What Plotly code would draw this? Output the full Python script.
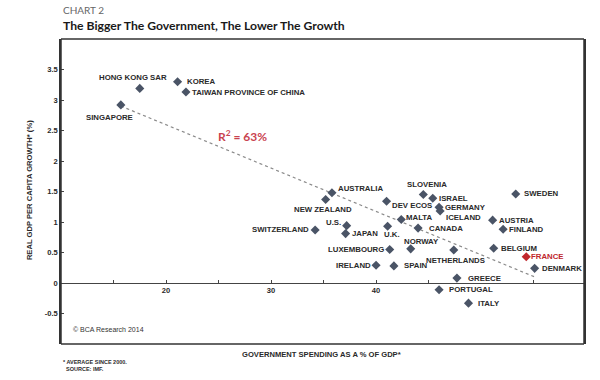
import plotly.graph_objects as go

# ---- data ----
countries = ["HONG KONG SAR", "KOREA", "TAIWAN PROVINCE OF CHINA", "SINGAPORE",
             "AUSTRALIA", "NEW ZEALAND", "SWITZERLAND", "U.S.", "JAPAN", "U.K.",
             "DEV ECOS", "SLOVENIA", "ISRAEL", "GERMANY", "ICELAND", "MALTA",
             "CANADA", "NORWAY", "LUXEMBOURG", "NETHERLANDS", "IRELAND", "SPAIN",
             "GREECE", "PORTUGAL", "ITALY", "SWEDEN", "AUSTRIA", "FINLAND",
             "BELGIUM", "FRANCE", "DENMARK"]
gov_spending = [17.5, 21.1, 21.9, 15.7,
                35.8, 35.2, 34.2, 37.2, 37.1, 41.1,
                41.0, 44.5, 45.4, 46.0, 46.1, 42.4,
                44.0, 43.3, 41.3, 47.4, 40.0, 41.7,
                47.7, 46.0, 48.8, 53.3, 51.1, 52.1,
                51.2, 54.3, 55.1]
gdp_growth = [3.19, 3.30, 3.13, 2.92,
              1.48, 1.37, 0.87, 0.94, 0.81, 0.93,
              1.34, 1.45, 1.39, 1.24, 1.18, 1.04,
              0.90, 0.56, 0.55, 0.54, 0.29, 0.28,
              0.08, -0.11, -0.33, 1.46, 1.03, 0.88,
              0.57, 0.43, 0.24]
highlight = "FRANCE"
trend_x = [15.7, 55.1]
trend_y = [2.90, 0.10]
r2_label = "R<sup>2</sup> = 63%"
x_tickvals = [20, 30, 40]
x_ticktext = ["20", "30", "40"]
x_minor_ticks = [15, 25, 35, 45, 55]
y_tickvals = [-0.5, 0, 0.5, 1, 1.5, 2, 2.5, 3, 3.5]
y_ticktext = ["-0.5", "0", "0.5", "1", "1.5", "2", "2.5", "3", "3.5"]

# ---- label placement (anchor, dx px, dy px) ----
label_pos = {
    "HONG KONG SAR": ("center", -7, 11), "KOREA": ("left", 8, 0),
    "TAIWAN PROVINCE OF CHINA": ("left", 5, 0), "SINGAPORE": ("center", -11, -13),
    "AUSTRALIA": ("left", 5, 4), "NEW ZEALAND": ("center", -3, -10),
    "SWITZERLAND": ("right", -5, 0), "U.S.": ("right", -5, 3),
    "JAPAN": ("left", 5, 0), "U.K.": ("center", 4, -8),
    "DEV ECOS": ("left", 4, -4), "SLOVENIA": ("center", 4, 10),
    "ISRAEL": ("left", 5, 0), "GERMANY": ("left", 5, 0),
    "ICELAND": ("left", 5, -6), "MALTA": ("left", 4, 2),
    "CANADA": ("left", 10, 0), "NORWAY": ("center", 11, 7),
    "LUXEMBOURG": ("right", -5, 0), "NETHERLANDS": ("center", 2, -10),
    "IRELAND": ("right", -4, 0), "SPAIN": ("left", 9, 0),
    "GREECE": ("left", 10, 0), "PORTUGAL": ("left", 9, 0),
    "ITALY": ("left", 9, 0), "SWEDEN": ("left", 7, 0),
    "AUSTRIA": ("left", 5, 0), "FINLAND": ("left", 5, 0),
    "BELGIUM": ("left", 6, 0), "FRANCE": ("left", 4, 0),
    "DENMARK": ("left", 6, 0),
}

DARK = "#4a5466"
RED = "#c0272d"
LBL_FONT = "Liberation Sans"

fig = go.Figure()
fig.add_trace(go.Scatter(
    x=trend_x, y=trend_y, mode="lines",
    line=dict(color="#8a8a8a", width=1.2, dash="dot"), hoverinfo="skip"))
fig.add_trace(go.Scatter(
    x=gov_spending, y=gdp_growth, mode="markers", text=countries,
    marker=dict(symbol="diamond", size=7,
                color=[RED if c == highlight else DARK for c in countries],
                line=dict(width=0))))

ann = []
for c, xv, yv in zip(countries, gov_spending, gdp_growth):
    anchor, dx, dy = label_pos[c]
    ann.append(dict(x=xv, y=yv, xref="x", yref="y", text=c, showarrow=False,
                    xanchor=anchor, yanchor="middle", xshift=dx, yshift=dy,
                    borderpad=0,
                    font=dict(family=LBL_FONT, size=7.8,
                              color=RED if c == highlight else "#2a2a2a",
                              weight="bold")))

ann.append(dict(x=27.3, y=2.41, xref="x", yref="y", text=r2_label, showarrow=False,
                font=dict(family="Lato", size=12, color="#c9434f", weight="bold")))
ann.append(dict(x=0.0, y=1.095, xref="paper", yref="paper", text="CHART 2",
                showarrow=False, xanchor="left", yanchor="middle",
                font=dict(family="Lato", size=10, color="#666666")))
ann.append(dict(x=0.0, y=1.045, xref="paper", yref="paper",
                text="<b>The Bigger The Government, The Lower The Growth</b>",
                showarrow=False, xanchor="left", yanchor="middle",
                font=dict(family="Lato", size=12.2, color="#1a1a1a")))
ann.append(dict(x=0.02, y=0.046, xref="paper", yref="paper",
                text="© BCA Research 2014", showarrow=False, xanchor="left",
                yanchor="middle", font=dict(family=LBL_FONT, size=7, color="#333333")))
ann.append(dict(x=0.499, y=-0.036, xref="paper", yref="paper",
                text="GOVERNMENT SPENDING AS A % OF GDP*", showarrow=False,
                xanchor="center", yanchor="middle",
                font=dict(family=LBL_FONT, size=7.6, color="#2a2a2a", weight="bold")))
ann.append(dict(x=-0.059, y=0.505, xref="paper", yref="paper",
                text="REAL GDP PER CAPITA GROWTH* (%)", showarrow=False, textangle=-90,
                xanchor="center", yanchor="middle",
                font=dict(family=LBL_FONT, size=7.6, color="#2a2a2a", weight="bold")))
ann.append(dict(x=0.0, y=-0.072, xref="paper", yref="paper",
                text="* AVERAGE SINCE 2000.<br>  SOURCE: IMF.", showarrow=False,
                xanchor="left", yanchor="middle", align="left",
                font=dict(family=LBL_FONT, size=5.5, color="#2a2a2a", weight="bold")))

frame = dict(color="#333333", width=1.5)
fig.update_layout(
    width=600, height=380,
    margin=dict(l=61, r=16, t=39, b=36),
    paper_bgcolor="white", plot_bgcolor="white",
    showlegend=False,
    annotations=ann,
    xaxis=dict(range=[10, 59.8], anchor="free", position=0.2,
               showline=True, linecolor="#444444", linewidth=1,
               tickmode="array", tickvals=x_tickvals, ticktext=x_ticktext,
               ticks="inside", ticklen=3, tickcolor="#444444",
               minor=dict(tickvals=x_minor_ticks, ticks="inside", ticklen=3,
                          tickcolor="#444444"),
               tickfont=dict(family=LBL_FONT, size=7.6, color="#2a2a2a", weight="bold"),
               showgrid=False, zeroline=False),
    yaxis=dict(range=[-1, 4], showline=True, linecolor="#333333", linewidth=1.5,
               mirror=True,
               tickmode="array", tickvals=y_tickvals, ticktext=y_ticktext,
               ticks="inside", ticklen=3, tickcolor="#444444",
               tickfont=dict(family=LBL_FONT, size=7.6, color="#2a2a2a", weight="bold"),
               showgrid=False, zeroline=False),
    shapes=[
        dict(type="line", xref="paper", yref="paper", x0=0, y0=0, x1=1, y1=0, line=frame),
        dict(type="line", xref="paper", yref="paper", x0=0, y0=1, x1=1, y1=1, line=frame),
        dict(type="line", xref="paper", yref="paper", x0=0, y0=0, x1=0, y1=1, line=frame),
        dict(type="line", xref="paper", yref="paper", x0=1, y0=0, x1=1, y1=1, line=frame),
    ],
)

fig.write_html("out.html", config={"displayModeBar": False},
               post_script="document.body.style.margin='0';document.body.style.padding='0';")
